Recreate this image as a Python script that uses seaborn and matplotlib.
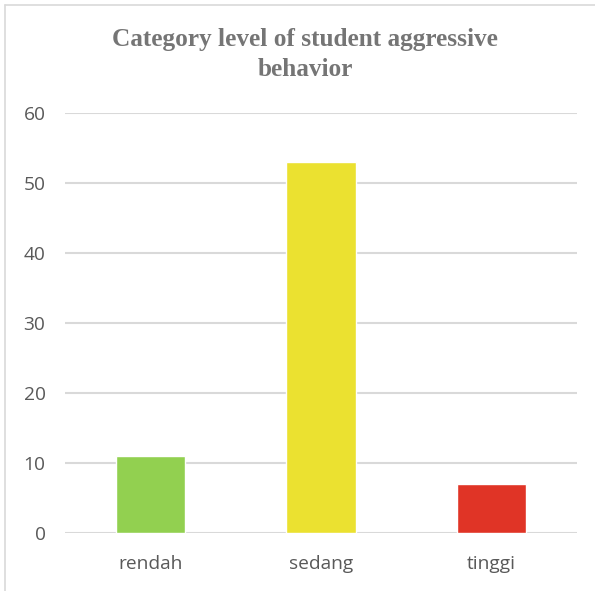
import matplotlib
matplotlib.use("Agg")
import matplotlib.pyplot as plt
from matplotlib.lines import Line2D
import seaborn as sns
import pandas as pd

categories = ["rendah", "sedang", "tinggi"]
values = [11, 53, 7]
colors = ["#92D050", "#EBE130", "#E03426"]
yticks = [0, 10, 20, 30, 40, 50, 60]
title = "Category level of student aggressive\nbehavior"

sns.set_theme(style="white")
plt.rcParams['font.family'] = ['Open Sans', 'DejaVu Sans']

df = pd.DataFrame({"cat": categories, "val": values})

W, H = 595, 591
fig = plt.figure(figsize=(W / 100, H / 100), dpi=100)
ax = fig.add_axes([65 / W, 58 / H, 512 / W, 420 / H])

sns.barplot(data=df, x="cat", y="val", hue="cat", palette=colors, legend=False,
            width=0.405, ax=ax, zorder=3, saturation=1)

ax.set_ylim(0, 60)
ax.set_xlim(-0.5, 2.5)
ax.set_yticks(yticks)
ax.yaxis.grid(True, color="#D9D9D9", linewidth=1.5, zorder=0)
ax.set_axisbelow(True)
for s in ax.spines.values():
    s.set_visible(False)
ax.set_xlabel("")
ax.set_ylabel("")
ax.tick_params(axis="both", length=0, labelsize=13.8, labelcolor="#595959")
ax.tick_params(axis="y", pad=14)
ax.tick_params(axis="x", pad=16)

fig.text(305 / W, 1 - 28 / H, title, ha="center", va="top",
         fontsize=18.2, fontweight="bold", color="#757575",
         family=["Liberation Serif", "DejaVu Serif"], linespacing=1.4)

fig.add_artist(Line2D([4.5 / W, 4.5 / W], [0, 1 - 5 / H], transform=fig.transFigure,
                      color="#D9D9D9", linewidth=1.2))
fig.add_artist(Line2D([4.5 / W, 1], [1 - 5 / H, 1 - 5 / H], transform=fig.transFigure,
                      color="#D9D9D9", linewidth=1.2))

fig.savefig("out.png", dpi=100)
